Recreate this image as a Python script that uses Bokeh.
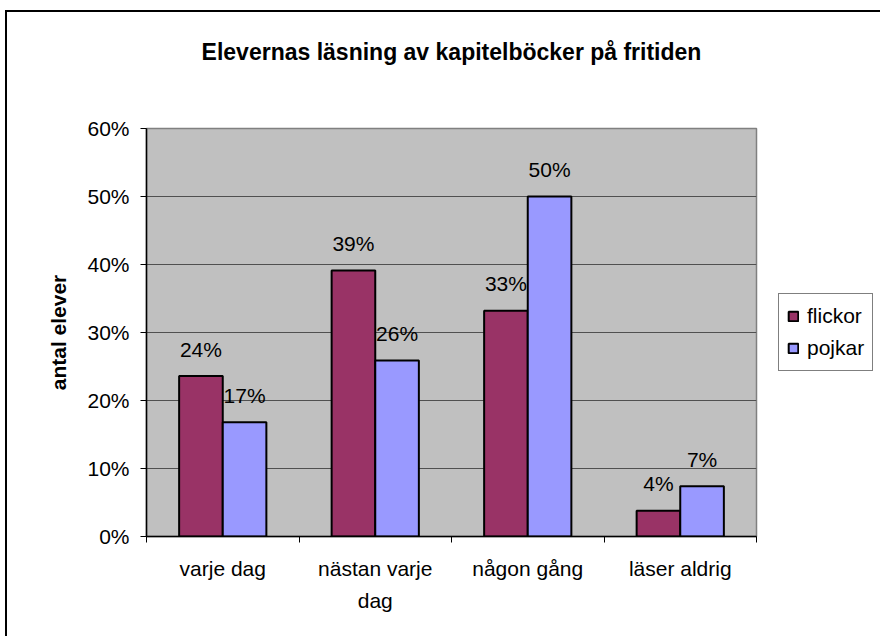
import numpy as np
from bokeh.plotting import figure
from bokeh.models import (Range1d, FixedTicker, NumeralTickFormatter, ColumnDataSource,
                          LabelSet, Legend, LegendItem, Title)
from bokeh.core.properties import value
from bokeh.embed import file_html
from bokeh.resources import INLINE

# ---- data ----
categories = ["varje dag", "nästan varje dag", "någon gång", "läser aldrig"]
tick_labels = ["varje dag", "nästan varje\ndag", "någon gång", "läser aldrig"]
flickor = [0.236, 0.391, 0.332, 0.038]
pojkar = [0.168, 0.259, 0.500, 0.074]
y_ticks = [0.0, 0.1, 0.2, 0.3, 0.4, 0.5, 0.6]
title_text = "Elevernas läsning av kapitelböcker på fritiden"
y_label = "antal elever"

FONT = "Liberation Sans"
FS = "21px"
C_F = "#993366"
C_P = "#9999FF"

n = len(categories)
centers = np.arange(n) + 0.5
bw = 0.286

src_f = ColumnDataSource(dict(x=centers - bw / 2, top=flickor,
                              lab=[f"{round(v * 100)}%" for v in flickor]))
src_p = ColumnDataSource(dict(x=centers + bw / 2, top=pojkar,
                              lab=[f"{round(v * 100)}%" for v in pojkar]))

p = figure(frame_width=610, frame_height=408, output_backend="svg", toolbar_location=None,
           x_range=Range1d(0, n), y_range=Range1d(0, 0.6),
           min_border_left=139, min_border_right=116, min_border_top=116, min_border_bottom=100)
p.styles = {"border-left": "2px solid black", "border-top": "2px solid black",
            "margin-left": "5px", "margin-top": "10px"}

p.background_fill_color = "#C0C0C0"
p.border_fill_color = "white"
p.outline_line_color = "#808080"
p.outline_line_width = 1.5

# spacer between title and plot area (inner above panel)
p.add_layout(Title(text=" ", text_font=FONT, text_font_size="21px", standoff=34), "above")

# title (outermost)
p.title.text = title_text
p.title.align = "center"
p.title.text_font = FONT
p.title.text_font_style = "bold"
p.title.text_font_size = "23px"
p.title.text_color = "black"
p.title.standoff = 10

r_f = p.vbar(x="x", top="top", width=bw, source=src_f, fill_color=C_F,
             line_color="black", line_width=2)
r_p = p.vbar(x="x", top="top", width=bw, source=src_p, fill_color=C_P,
             line_color="black", line_width=2)

for s in (src_f, src_p):
    p.add_layout(LabelSet(x="x", y="top", text="lab", source=s, text_align="center",
                          text_baseline="middle", y_offset=27, text_font_size=value(FS),
                          text_font=value(FONT), text_color="black"))

# grid
p.xgrid.visible = False
p.ygrid.grid_line_color = "#505050"
p.ygrid.grid_line_width = 1.2
p.ygrid.ticker = FixedTicker(ticks=y_ticks)

# y axis
ya = p.yaxis[0]
ya.ticker = FixedTicker(ticks=y_ticks)
ya.formatter = NumeralTickFormatter(format="0%")
ya.major_label_text_font = FONT
ya.major_label_text_font_size = FS
ya.major_label_text_color = "black"
ya.major_tick_out = 6
ya.major_tick_in = 0
ya.minor_tick_out = 0
ya.minor_tick_in = 0
ya.major_label_standoff = 11
ya.axis_line_color = "black"
ya.axis_line_width = 1.5
ya.major_tick_line_color = "black"
ya.axis_label = y_label
ya.axis_label_text_font = FONT
ya.axis_label_text_font_style = "bold"
ya.axis_label_text_font_size = "21px"
ya.axis_label_text_color = "black"
ya.axis_label_standoff = 14

# x axis
xa = p.xaxis[0]
xa.ticker = FixedTicker(ticks=list(centers), minor_ticks=list(range(n + 1)))
xa.major_label_overrides = {float(c): t for c, t in zip(centers, tick_labels)}
xa.major_label_text_font = FONT
xa.major_label_text_font_size = FS
xa.major_label_text_color = "black"
xa.major_label_text_line_height = 1.4
xa.major_tick_out = 0
xa.major_tick_in = 0
xa.minor_tick_out = 6
xa.minor_tick_in = 0
xa.minor_tick_line_color = "black"
xa.major_label_standoff = 14
xa.axis_line_color = "black"
xa.axis_line_width = 1.5

# legend
legend = Legend(items=[LegendItem(label="flickor", renderers=[r_f]),
                       LegendItem(label="pojkar", renderers=[r_p])],
                location="center_left", margin=22, padding=8, spacing=4,
                glyph_width=12, glyph_height=12, label_standoff=8, label_height=28,
                label_text_font=FONT, label_text_font_size=FS, label_text_color="black",
                border_line_color="black", border_line_width=1.2,
                background_fill_color="white", background_fill_alpha=1.0)
p.add_layout(legend, "right")

open("out.html", "w").write(file_html(p, INLINE))
